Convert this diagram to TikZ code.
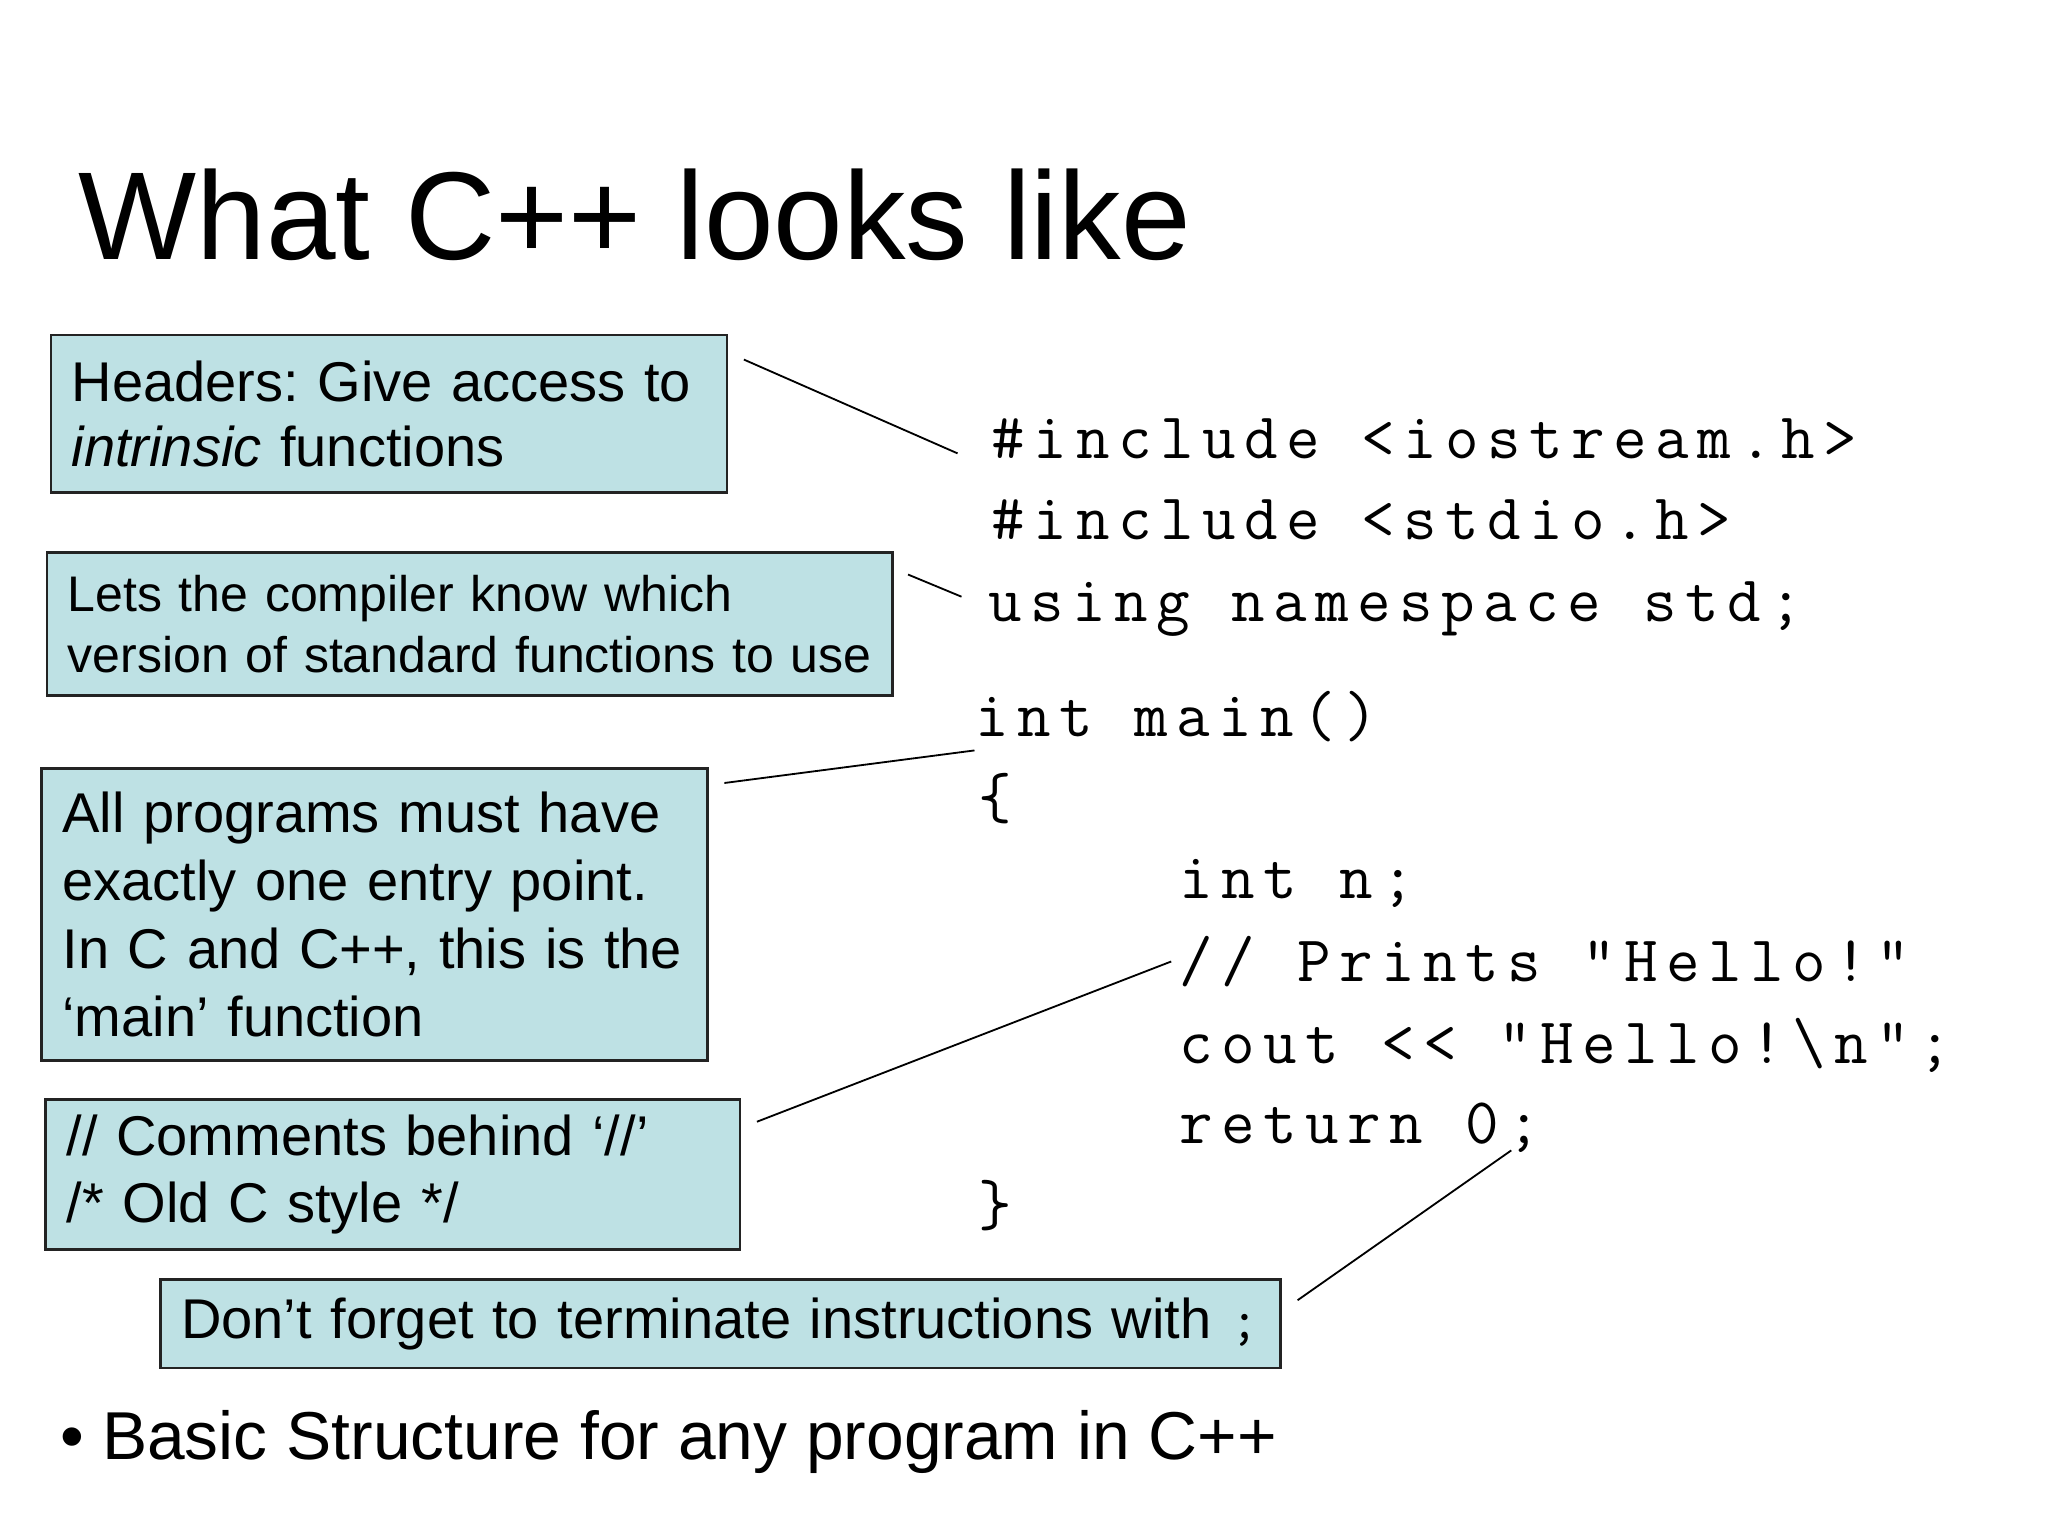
\documentclass[tikz,border=0pt]{standalone}
\usepackage{fontspec}
\setmainfont{Liberation Sans}
\newfontfamily\codefont{Latin Modern Mono}[LetterSpace=13]
\definecolor{boxfill}{RGB}{190,225,228}
\definecolor{boxline}{RGB}{35,35,35}
\tikzset{
  callout/.style={draw=boxline, line width=1pt, fill=boxfill, anchor=north west,
    inner xsep=8pt, inner ysep=0pt, align=left},
  codeline/.style={anchor=base west, inner sep=0pt, font=\fontsize{25}{30}\codefont},
  leader/.style={line width=0.7pt, black},
}
\begin{document}
\frenchspacing
\begin{tikzpicture}[x=0.5pt,y=-0.5pt]
\useasboundingbox[fill=white] (0,0) rectangle (1572,1179);

% title
\node[anchor=base west, inner sep=0pt, font=\fontsize{48}{52}\selectfont] (title) at (60,199) {What C++ looks like};

% callout boxes
\node[callout, text width=243.5pt, minimum height=60.5pt, font=\fontsize{21.5}{25}\selectfont] (hdr) at (38,256)
  {\mbox{Headers: Give access to}\\\mbox{\textit{intrinsic} functions}};
\node[callout, text width=308.5pt, minimum height=55pt, font=\fontsize{19.2}{23.5}\selectfont] (ns) at (35,423)
  {\mbox{Lets the compiler know which}\\\mbox{version of standard functions to use}};
\node[callout, text width=239.5pt, minimum height=112pt, font=\fontsize{21.5}{26}\selectfont] (entry) at (31,589)
  {\mbox{All programs must have}\\\mbox{exactly one entry point.}\\\mbox{In C and C++, this is the}\\\mbox{‘main’ function}};
\node[callout, text width=250.5pt, minimum height=57.5pt, font=\fontsize{21.5}{26}\selectfont] (cmt) at (34,843)
  {\mbox{// Comments behind ‘//’}\\\mbox{/* Old C style */}};
\node[callout, text width=414pt, minimum height=34pt, font=\fontsize{21.5}{25}\selectfont] (semi) at (122,981)
  {\mbox{Don’t forget to terminate instructions with\ {\codefont ;}}};

% bullet
\node[anchor=base west, inner sep=0pt, font=\fontsize{26}{30}\selectfont] (dot) at (46,1120) {•};
\node[anchor=base west, inner sep=0pt, font=\fontsize{26}{30}\selectfont] (basic) at (78,1120) {Basic Structure for any program in C++};

% code
\node[codeline] (c1) at (761,352) {\#include <iostream.h>};
\node[codeline] (c2) at (761,414) {\#include <stdio.h>};
\node[codeline] (c3) at (758,477) {using namespace std;};
\node[codeline] (c4) at (748,565) {int main()};
\node[codeline] (c5) at (751,628) {\{};
\node[codeline] (c6) at (905,690) {int n;};
\node[codeline] (c7) at (905,753) {// Prints “Hello!”};
\node[codeline] (c8) at (905,816) {cout << “Hello!\textbackslash n”;};
\node[codeline] (c9) at (905,878) {return 0;};
\node[codeline] (c10) at (751,941) {\}};

% leader lines
\coordinate (l1a) at (571,276); \coordinate (l1b) at (735,348);
\coordinate (l2a) at (697,441); \coordinate (l2b) at (738,458);
\coordinate (l3a) at (556,601); \coordinate (l3b) at (748,576);
\coordinate (l4a) at (581,861); \coordinate (l4b) at (899,738);
\coordinate (l5a) at (996,998); \coordinate (l5b) at (1160,883);
\draw[leader] (l1a) -- (l1b);
\draw[leader] (l2a) -- (l2b);
\draw[leader] (l3a) -- (l3b);
\draw[leader] (l4a) -- (l4b);
\draw[leader] (l5a) -- (l5b);
\end{tikzpicture}
\end{document}
